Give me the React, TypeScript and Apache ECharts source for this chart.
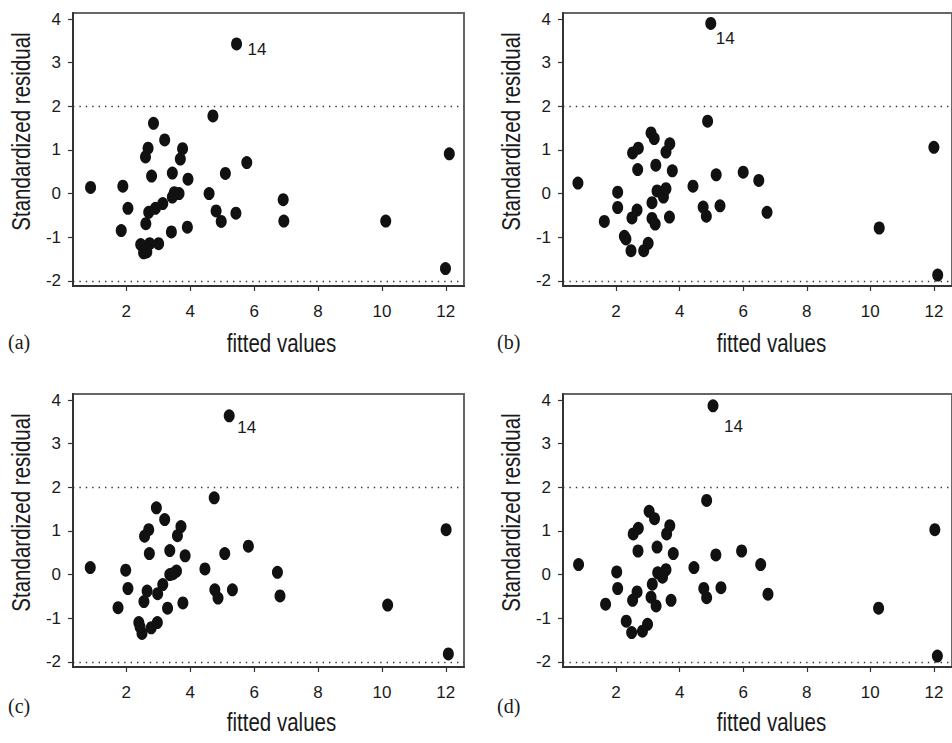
import React, { useEffect, useRef } from "react";
import * as echarts from "echarts";

const fittedA = [0.88, 1.89, 2.05, 1.84, 2.85, 2.68, 2.60, 3.20, 3.76, 3.69, 2.79, 3.44, 3.93, 4.71, 5.10, 5.77, 4.59, 4.81, 4.97, 5.43, 3.65, 3.44, 3.50, 3.14, 2.91, 2.70, 2.61, 3.41, 3.91, 3.01, 2.45, 2.73, 2.54, 2.64, 6.91, 6.93, 10.12, 12.11, 11.99];
const residA = [0.14, 0.17, -0.34, -0.85, 1.61, 1.04, 0.84, 1.23, 1.03, 0.79, 0.40, 0.47, 0.33, 1.78, 0.46, 0.71, 0.00, -0.40, -0.64, -0.45, 0.00, -0.08, 0.02, -0.23, -0.34, -0.43, -0.69, -0.88, -0.77, -1.15, -1.17, -1.15, -1.36, -1.34, -0.14, -0.63, -0.63, 0.91, -1.72];

const fittedB = [0.80, 1.63, 2.05, 2.05, 2.26, 2.31, 2.47, 2.50, 2.66, 2.52, 2.70, 2.68, 2.87, 3.01, 3.10, 3.20, 3.25, 3.13, 3.13, 3.23, 3.29, 3.49, 3.57, 3.57, 3.69, 3.77, 3.68, 4.42, 4.88, 4.74, 4.84, 5.15, 5.27, 6.00, 6.49, 6.75, 10.28, 12.00, 12.12];
const residB = [0.24, -0.64, 0.03, -0.32, -0.98, -1.04, -1.31, -0.56, -0.38, 0.93, 1.04, 0.55, -1.31, -1.14, 1.39, 1.26, 0.65, -0.21, -0.57, -0.70, 0.06, -0.08, 0.11, 0.95, 1.14, 0.52, -0.54, 0.17, 1.66, -0.31, -0.52, 0.43, -0.28, 0.49, 0.30, -0.43, -0.79, 1.06, -1.87];

const fittedC = [0.87, 1.98, 2.05, 1.74, 2.94, 2.70, 2.57, 3.20, 3.71, 3.60, 2.72, 3.36, 3.84, 4.75, 5.08, 5.82, 4.46, 4.77, 4.87, 5.32, 3.57, 3.36, 3.46, 3.14, 2.98, 2.65, 2.55, 3.29, 3.77, 2.97, 2.39, 2.78, 2.49, 2.43, 6.73, 6.81, 10.18, 12.01, 12.08];
const residC = [0.16, 0.10, -0.32, -0.76, 1.53, 1.03, 0.88, 1.26, 1.10, 0.89, 0.48, 0.55, 0.43, 1.76, 0.48, 0.65, 0.13, -0.35, -0.54, -0.35, 0.08, 0.00, 0.02, -0.23, -0.44, -0.38, -0.62, -0.77, -0.65, -1.10, -1.10, -1.22, -1.35, -1.20, 0.05, -0.49, -0.70, 1.03, -1.82];

const fittedD = [0.82, 1.67, 2.02, 2.05, 2.32, 2.49, 2.52, 2.66, 2.54, 2.70, 2.69, 2.83, 2.99, 3.04, 3.21, 3.29, 3.14, 3.10, 3.26, 3.31, 3.46, 3.57, 3.59, 3.69, 3.80, 3.73, 4.45, 4.85, 4.76, 4.85, 5.14, 5.30, 5.95, 6.55, 6.78, 10.26, 12.03, 12.11];
const residD = [0.23, -0.68, 0.06, -0.32, -1.07, -1.33, -0.59, -0.40, 0.93, 1.06, 0.54, -1.30, -1.14, 1.45, 1.28, 0.63, -0.22, -0.52, -0.72, 0.04, -0.06, 0.11, 0.93, 1.12, 0.48, -0.59, 0.16, 1.70, -0.32, -0.53, 0.45, -0.30, 0.54, 0.23, -0.45, -0.77, 1.03, -1.87];

const outlierFitted = [5.45, 4.98, 5.22, 5.05];
const outlierResid = [3.43, 3.90, 3.64, 3.87];
const outlierLabel = "14";

const xTicks = [2, 4, 6, 8, 10, 12];
const yTicks = [-2, -1, 0, 1, 2, 3, 4];
const refLines = [2, -2];
const panelLetters = ["(a)", "(b)", "(c)", "(d)"];
const xTitle = "fitted values";
const yTitle = "Standardized residual";

const fittedAll = [fittedA, fittedB, fittedC, fittedD];
const residAll = [residA, residB, residC, residD];

// layout (pixels)
const GRIDS = [
  { left: 73, top: 13 },
  { left: 563, top: 13 },
  { left: 73, top: 394 },
  { left: 563, top: 394 },
];
const GW = 391;
const GH = 273;
const LABEL_OFF = [
  [11, 6],
  [5, 15],
  [8, 12],
  [11, 21],
];
const LETTER_Y = [342, 342, 706, 706];
const XTITLE_Y = [343, 343, 722, 722];

const SANS = "'Liberation Sans', Arial, Helvetica, sans-serif";
const SERIF = "'Liberation Serif', 'Times New Roman', serif";
const TITLE_SIZE = 25;
const TITLE_SQUEEZE = 0.82;

export default function App() {
  const ref = useRef<HTMLDivElement>(null);
  useEffect(() => {
    if (!ref.current) return;
    const chart = echarts.init(ref.current, null, { renderer: "svg" });

    const grid: any[] = [];
    const xAxis: any[] = [];
    const yAxis: any[] = [];
    const series: any[] = [];
    const graphic: any[] = [];

    GRIDS.forEach((g, i) => {
      grid.push({
        left: g.left,
        top: g.top,
        width: GW,
        height: GH,
        show: true,
        borderColor: "#666",
        borderWidth: 2,
        backgroundColor: "transparent",
      });
      xAxis.push({
        type: "value",
        gridIndex: i,
        min: 0.33,
        max: 12.57,
        splitLine: { show: false },
        axisLine: { show: true, onZero: false, lineStyle: { color: "#333", width: 2 } },
        axisTick: { show: true, inside: false, length: 5, customValues: xTicks, lineStyle: { color: "#333", width: 1.2 } },
        axisLabel: { show: true, customValues: xTicks, margin: 17, color: "#1a1a1a", fontSize: 17, fontFamily: SANS },
      });
      yAxis.push({
        type: "value",
        gridIndex: i,
        min: -2.12,
        max: 4.14,
        splitLine: { show: false },
        axisLine: { show: true, onZero: false, lineStyle: { color: "#333", width: 2 } },
        axisTick: { show: true, inside: false, length: 5, customValues: yTicks, lineStyle: { color: "#333", width: 1.2 } },
        axisLabel: { show: true, customValues: yTicks, margin: 12, color: "#1a1a1a", fontSize: 17, fontFamily: SANS },
      });
      series.push({
        type: "scatter",
        xAxisIndex: i,
        yAxisIndex: i,
        symbol: "circle",
        symbolSize: [11, 13],
        itemStyle: { color: "#111", opacity: 1 },
        data: fittedAll[i].map((x, k) => [x, residAll[i][k]]),
        markLine: {
          silent: true,
          symbol: ["none", "none"],
          label: { show: false },
          lineStyle: { type: [1.4, 5], color: "#333", width: 1.3 },
          data: refLines.map((v) => ({ yAxis: v })),
        },
        z: 3,
      });
      series.push({
        type: "scatter",
        xAxisIndex: i,
        yAxisIndex: i,
        symbol: "circle",
        symbolSize: [11, 13],
        itemStyle: { color: "#111", opacity: 1 },
        data: [[outlierFitted[i], outlierResid[i]]],
        label: {
          show: true,
          formatter: outlierLabel,
          position: [LABEL_OFF[i][0] + 5.5, LABEL_OFF[i][1] + 6.5],
          align: "left",
          verticalAlign: "middle",
          color: "#1a1a1a",
          fontSize: 17,
          fontFamily: SANS,
        },
        z: 3,
      });
      graphic.push({
        type: "text",
        x: g.left + 208.5,
        y: XTITLE_Y[i],
        scaleX: TITLE_SQUEEZE,
        style: {
          text: xTitle,
          align: "center",
          verticalAlign: "middle",
          fill: "#1a1a1a",
          fontSize: TITLE_SIZE,
          fontFamily: SANS,
        },
      });
      graphic.push({
        type: "text",
        x: g.left - 51.5,
        y: g.top + 118.5,
        rotation: Math.PI / 2,
        scaleX: TITLE_SQUEEZE,
        style: {
          text: yTitle,
          align: "center",
          verticalAlign: "middle",
          fill: "#1a1a1a",
          fontSize: TITLE_SIZE,
          fontFamily: SANS,
        },
      });
      graphic.push({
        type: "text",
        x: i % 2 === 0 ? 8 : 497,
        y: LETTER_Y[i],
        style: {
          text: panelLetters[i],
          align: "left",
          verticalAlign: "middle",
          fill: "#1a1a1a",
          fontSize: 20,
          fontFamily: SERIF,
        },
      });
    });

    chart.setOption({
      animation: false,
      backgroundColor: "#fff",
      grid,
      xAxis,
      yAxis,
      series,
      graphic,
    });
    return () => chart.dispose();
  }, []);

  return (
    <div
      ref={ref}
      style={{ position: "absolute", left: 0, top: 0, width: 952, height: 743 }}
    />
  );
}
